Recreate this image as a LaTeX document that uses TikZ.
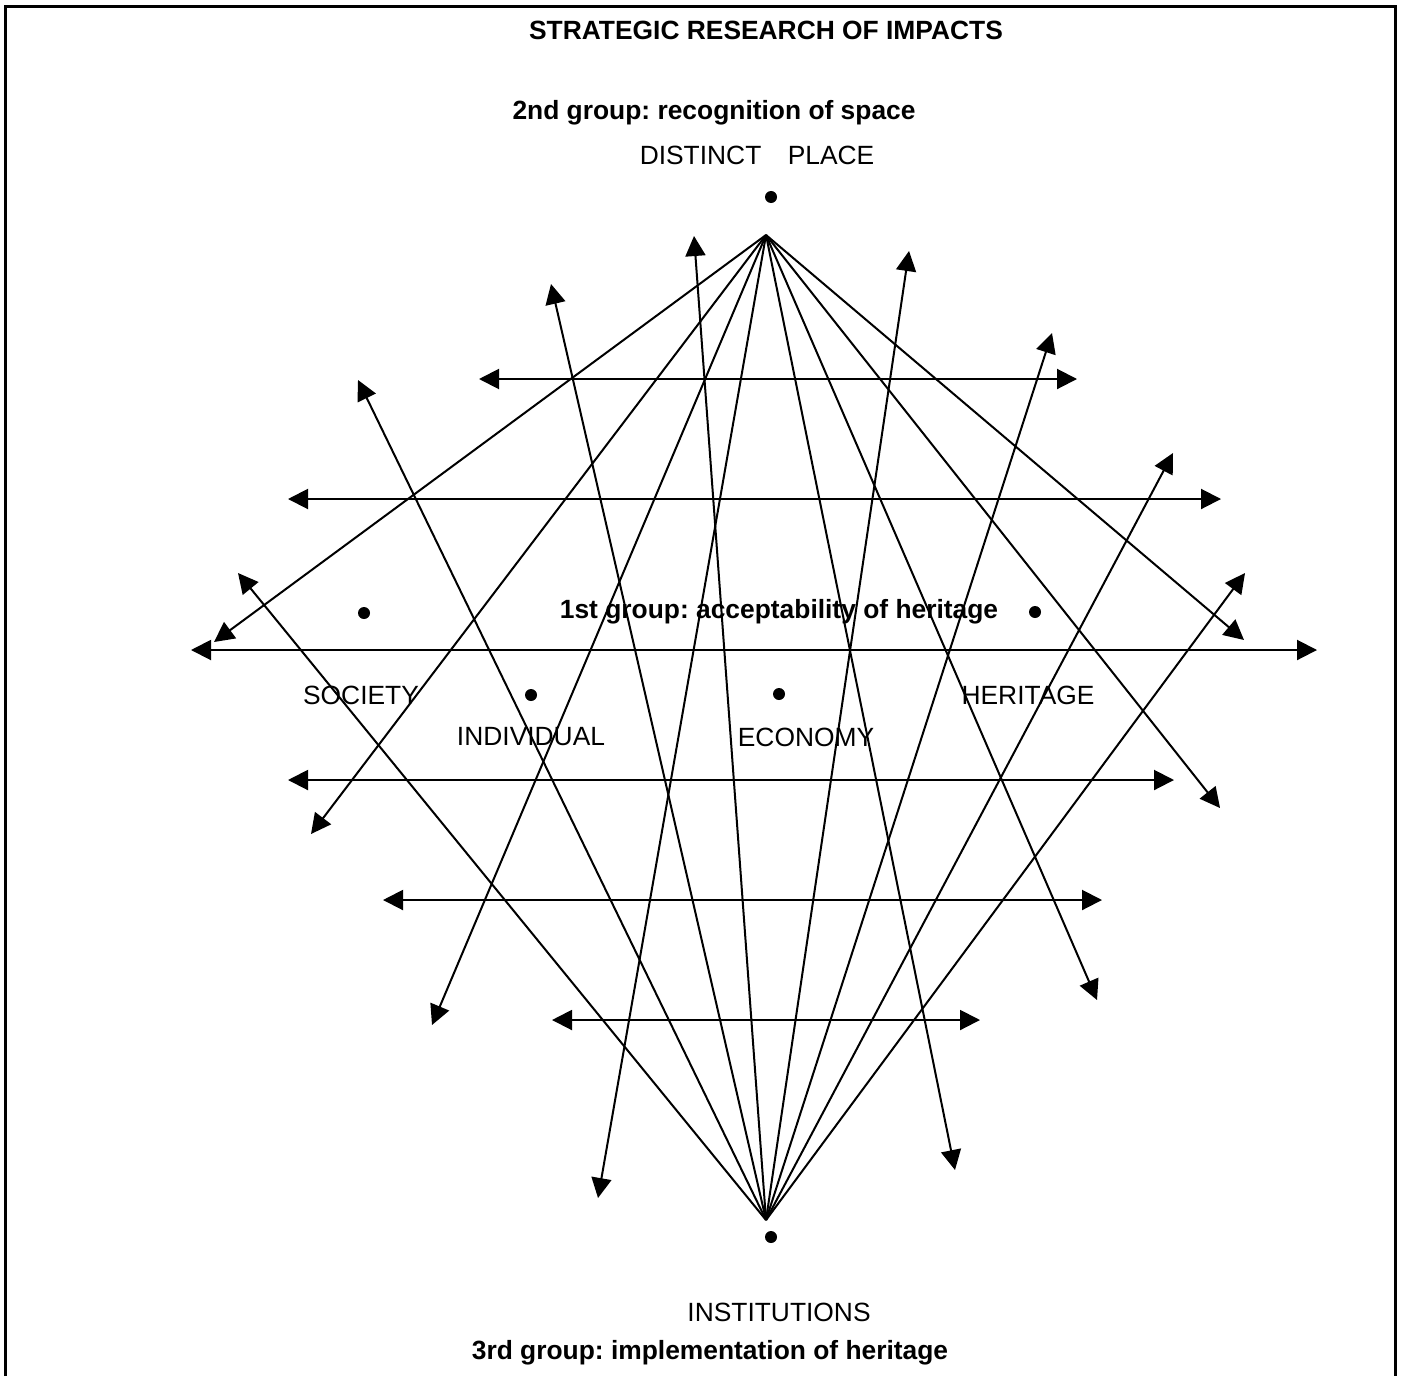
\documentclass[tikz,border=0pt]{standalone}
\usepackage{fontspec}
\setmainfont{Liberation Sans}
\usetikzlibrary{arrows.meta}
\frenchspacing
\begin{document}
\begin{tikzpicture}[x=0.01cm,y=-0.01cm,
  ln/.style={line width=0.02cm},
  arr/.style={ln,-{Triangle[length=0.2cm,width=0.2cm]}},
  darr/.style={ln,{Triangle[length=0.2cm,width=0.2cm]}-{Triangle[length=0.2cm,width=0.2cm]}},
  dot/.style={circle,fill=black,inner sep=0pt,minimum size=0.12cm},
  lbl/.style={inner sep=0pt,font=\fontsize{7.5}{9}\selectfont},
  blbl/.style={inner sep=0pt,font=\fontsize{7.5}{9}\selectfont\bfseries}]
\useasboundingbox (0,0) rectangle (1401,1376);
\fill[white] (0,0) rectangle (1401,1376);
% frame
\draw[line width=0.028cm] (5.3,1376) -- (5.3,6.3) -- (1395.5,6.3) -- (1395.5,1376);
% titles and labels
\node[blbl] (title) at (766,30) {STRATEGIC RESEARCH OF IMPACTS};
\node[blbl] (g2) at (714,113) {2nd group: recognition of space};
\node[lbl] (dp) at (757,155) {DISTINCT\hspace{1em}PLACE};
\node[blbl] (g1) at (779,612) {1st group: acceptability of heritage};
\node[lbl] (soc) at (361,695) {SOCIETY};
\node[lbl] (her) at (1028,695) {HERITAGE};
\node[lbl] (ind) at (531,737) {INDIVIDUAL};
\node[lbl] (eco) at (806,737) {ECONOMY};
\node[lbl] (inst) at (779,1312) {INSTITUTIONS};
\node[blbl] (g3) at (710,1353) {3rd group: implementation of heritage};
% dots
\node[dot] (dTop) at (771,197) {};
\node[dot] (dSoc) at (364,613) {};
\node[dot] (dHer) at (1035,612) {};
\node[dot] (dInd) at (531,695) {};
\node[dot] (dEco) at (779,694) {};
\node[dot] (dBot) at (771,1237) {};
% apexes
\coordinate (T) at (766,235);
\coordinate (B) at (766,1220);
% endpoints of arrows from top apex
\coordinate (t1) at (214,642);
\coordinate (t2) at (311,834);
\coordinate (t3) at (432,1025);
\coordinate (t4) at (598,1198);
\coordinate (t5) at (955,1170);
\coordinate (t6) at (1097,1000);
\coordinate (t7) at (1220,808);
\coordinate (t8) at (1244,640);
\foreach \e in {t1,t2,t3,t4,t5,t6,t7,t8} \draw[arr] (T) -- (\e);
% endpoints of arrows from bottom apex
\coordinate (b1) at (694,236);
\coordinate (b2) at (551,284);
\coordinate (b3) at (358,380);
\coordinate (b4) at (238,573);
\coordinate (b5) at (909,251);
\coordinate (b6) at (1052,333);
\coordinate (b7) at (1173,453);
\coordinate (b8) at (1245,573);
\foreach \e in {b1,b2,b3,b4,b5,b6,b7,b8} \draw[arr] (B) -- (\e);
% horizontal double arrows
\coordinate (h1l) at (479,379);  \coordinate (h1r) at (1077,379);
\coordinate (h2l) at (288,499);  \coordinate (h2r) at (1221,499);
\coordinate (h3l) at (191,650);  \coordinate (h3r) at (1317,650);
\coordinate (h4l) at (288,780);  \coordinate (h4r) at (1174,780);
\coordinate (h5l) at (383,900);  \coordinate (h5r) at (1102,900);
\coordinate (h6l) at (552,1020); \coordinate (h6r) at (980,1020);
\foreach \i in {1,...,6} \draw[darr] (h\i l) -- (h\i r);
\end{tikzpicture}
\end{document}
